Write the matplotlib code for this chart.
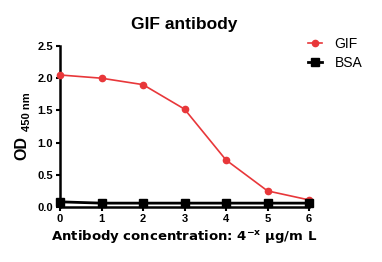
import matplotlib
matplotlib.use("Agg")
import matplotlib.pyplot as plt

plt.rcParams['font.family'] = ['Liberation Sans', 'DejaVu Sans']

x = [0, 1, 2, 3, 4, 5, 6]
gif = [2.05, 2.00, 1.90, 1.52, 0.73, 0.25, 0.11]
bsa = [0.08, 0.06, 0.06, 0.06, 0.06, 0.06, 0.06]
xticks = ['0', '1', '2', '3', '4', '5', '6']
yticks = [0.0, 0.5, 1.0, 1.5, 2.0, 2.5]

W, H = 382, 262
fig = plt.figure(figsize=(3.82, 2.62), dpi=100)
ax = fig.add_axes([60 / W, 1 - 207 / H, 249 / W, 161 / H])
ax.plot(x, gif, color='#e8373a', marker='o', markersize=4.5, linewidth=1.2, label='GIF', clip_on=False, zorder=3)
ax.plot(x, bsa, color='black', marker='s', markersize=5.5, linewidth=2, label='BSA', clip_on=False, zorder=4)
ax.set_xlim(0, 6)
ax.set_ylim(0, 2.5)
ax.set_xticks(x)
ax.set_xticklabels(xticks, fontsize=8, fontweight='bold')
ax.set_yticks(yticks)
ax.set_yticklabels([f'{v:.1f}' for v in yticks], fontsize=8, fontweight='bold')
for s in ['top', 'right']:
    ax.spines[s].set_visible(False)
for s in ['left', 'bottom']:
    ax.spines[s].set_linewidth(1.8)
ax.tick_params(width=1.5, length=3, pad=2)
ax.set_title('GIF antibody', fontsize=12.5, fontweight='bold', pad=12)

fig.text(21.5 / W, 1 - 147.5 / H, 'OD', rotation=90, ha='center', va='center',
         fontsize=11.5, fontweight='bold')
fig.text(27 / W, 1 - 111.5 / H, '450 nm', rotation=90, ha='center', va='center',
         fontsize=8, fontweight='bold')

ax.set_xlabel(r'Antibody concentration: 4$^{\mathregular{-x}}$ $\mathregular{\mu}$g/m L',
              fontsize=9.5, fontweight='bold', labelpad=3, family='DejaVu Sans')
ax.legend(loc='upper left', bbox_to_anchor=(0.996, 1.056), frameon=False, fontsize=10,
          handlelength=1.0, handletextpad=0.9, labelspacing=0.37, borderpad=0, borderaxespad=0)
fig.savefig('out.png', dpi=100)
